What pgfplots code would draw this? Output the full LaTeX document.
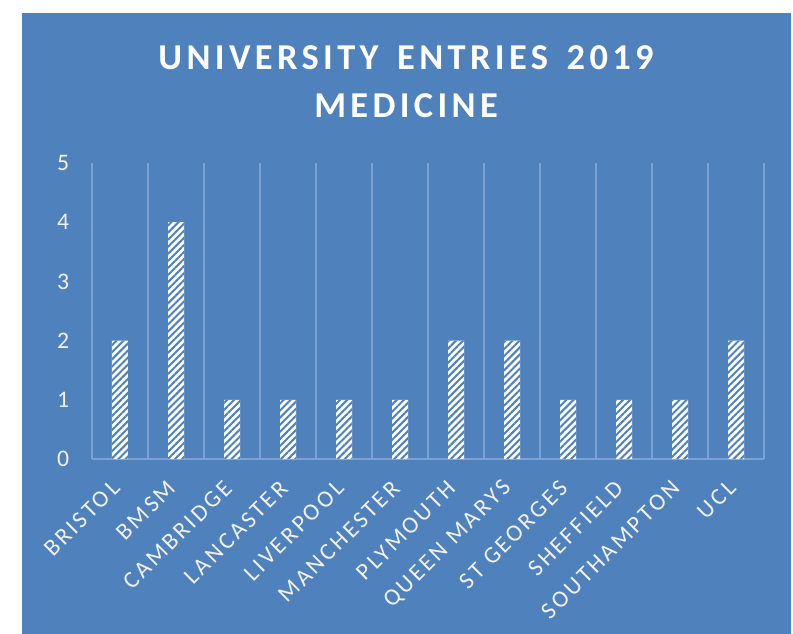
\documentclass[border=0pt]{standalone}
\usepackage{fontspec}
\setmainfont{Carlito}
\newfontfamily\spacedfont[LetterSpace=12]{Carlito}
\usepackage{pgfplots}
\pgfplotsset{compat=1.18}
\usetikzlibrary{patterns.meta}
\definecolor{bg}{RGB}{79,129,189}
\definecolor{gridc}{RGB}{125,162,210}
\definecolor{tickc}{RGB}{242,242,242}
\begin{document}
\begin{tikzpicture}
\useasboundingbox (0,0) rectangle (594.75pt,-475.5pt);
\fill[white] (0,0) rectangle (594.75pt,-475.5pt);
\fill[bg] (16.5pt,-9.75pt) rectangle (593.25pt,-475.5pt);
\node[anchor=base, text=white, inner sep=0pt] at (304.5pt,-52.5pt) {\spacedfont\bfseries\fontsize{27.3pt}{30pt}\selectfont UNIVERSITY\, ENTRIES\, 2019};
\node[anchor=base, text=white, inner sep=0pt] at (304.5pt,-88.5pt) {\spacedfont\bfseries\fontsize{27.3pt}{30pt}\selectfont MEDICINE};
\begin{axis}[
  at={(69pt,-344.25pt)}, anchor=south west,
  scale only axis, width=504pt, height=222pt,
  xmin=-0.5, xmax=11.5, ymin=0, ymax=5,
  axis x line*=bottom, axis y line*=left,
  x axis line style={gridc, line width=1.5pt, -},
  y axis line style={draw=none},
  major tick length=0pt, minor tick length=0pt,
  xtick={0,...,11},
  xticklabels={BRISTOL,BMSM,CAMBRIDGE,LANCASTER,LIVERPOOL,MANCHESTER,PLYMOUTH,QUEEN MARYS,ST GEORGES,SHEFFIELD,SOUTHAMPTON,UCL},
  minor xtick={-0.5,0.5,...,11.5},
  xminorgrids=true,
  minor grid style={gridc, line width=1.5pt},
  ytick={0,1,2,3,4,5},
  /pgf/number format/assume math mode=true,
  yticklabel style={text=tickc, font=\fontsize{17.8pt}{18pt}\selectfont, anchor=east, inner sep=0pt, xshift=-17pt},
  xticklabel style={xshift=-3pt, yshift=-19pt, rotate=45, anchor=east, inner sep=0pt, text=tickc, font=\spacedfont\fontsize{17.8pt}{18pt}\selectfont},
  bar width=12pt,
]
\addplot[ybar, draw=none, fill=white, postaction={pattern={Lines[angle=45,distance=3.75pt,line width=1.5pt]}, pattern color=bg}] coordinates {
(0,2) (1,4) (2,1) (3,1) (4,1) (5,1) (6,2) (7,2) (8,1) (9,1) (10,1) (11,2)};
\end{axis}
\end{tikzpicture}
\end{document}
